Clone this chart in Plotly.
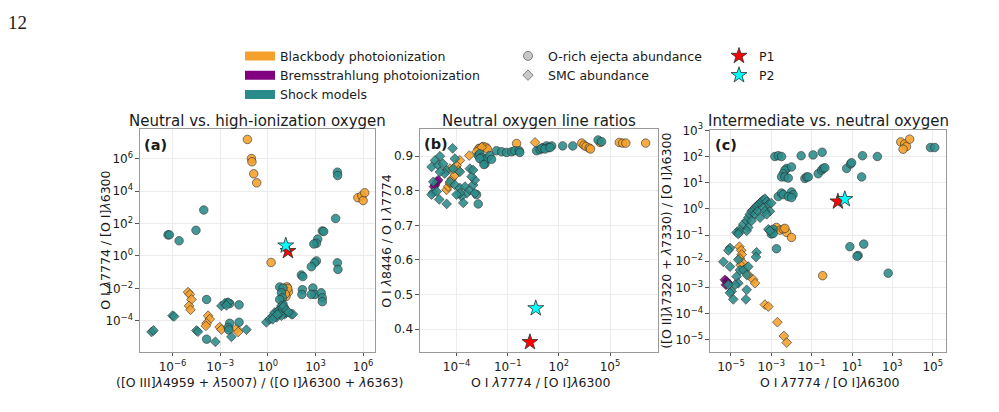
import plotly.graph_objects as go

# ---------------- DATA ----------------
# Panel (a): x = ([O III]4959+5007)/([O I]6300+6363), y = O I 7774/[O I]6300
a_bb_circ_x = [5.2e-2, 9.3e-2, 1.0e-1, 1.3e-1, 2.0e-1, 1.6, 4.7e5, 8.3e5, 1.0e6, 1.26e6, 16, 20, 14, 18, 12.6]
a_bb_circ_y = [1.5e7, 1.0e6, 6.3e5, 1.15e5, 3.2e4, 4.0e-1, 3.9e3, 5.1e3, 2.6e3, 7.8e3, 1.26e-2, 6.3e-3, 3.2e-3, 1.0e-2, 4.5e-3]
a_bb_diam_x = [9.5e-6, 1.23e-5, 1.55e-5, 1.1e-5, 1.35e-5, 1.74e-4, 2.2e-4, 1.4e-4, 1.26e-4, 9.3e-4, 1.2e-3, 1.07e-2, 1.35e-2]
a_bb_diam_y = [5.9e-3, 4.3e-3, 2.1e-3, 8.5e-4, 4.9e-4, 2.1e-4, 1.3e-4, 7.2e-5, 5.0e-5, 4.2e-5, 3.0e-5, 3.3e-5, 2.1e-5]
a_sh_circ_x = [5.2e-7, 6.3e-7, 2.6e-6, 3.0e-5, 9.3e-5, 1.86e4, 2.4e4, 2.5e4, 2.7e3, 3.3e3, 1.38e3, 1.15e3, 7.9e2,
               1.15e3, 8.9e2, 5.5e2, 2.4e4, 2.6e4, 1.3e2, 1.6e2, 1.5e2, 1.4e2, 6.9e2, 8.9e2, 2.3e3, 2.7e3, 2.7e3,
               5.5e2, 5.6, 9.1, 7.2, 8.3, 9.1, 5.6, 1.4e-4, 2.9e-3, 4.0e-3, 1.55e-2, 1.4e-4, 4.0e-3, 1.55e-2,
               3.2e-3, 3.5e-3]
a_sh_circ_y = [20, 20, 8.7, 38, 680, 204, 1.45e5, 9.1e4, 35, 32, 11, 6.0, 5.5,
               0.5, 0.38, 0.22, 0.38, 0.15, 6.8e-2, 5.4e-2, 8.5e-3, 4.3e-3, 1.07e-2, 4.3e-3, 5.4e-3, 2.7e-3, 1.55e-3,
               4.3e-3, 1.23e-2, 1.07e-2, 5.4e-3, 2.7e-3, 1.05e-3, 2.1e-3, 2.1e-3, 1.35e-3, 1.17e-3, 9.8e-4, 7.6e-6,
               7.2e-5, 8.3e-5, 4.0e-5, 2.8e-5]
a_sh_diam_x = [4.8e-8, 6.3e-8, 1.0e-6, 1.26e-6, 3.2e-5, 4.0e-5, 5.0e-4, 5.1e-3, 4.5e-2, 1.2e-3, 1.95e-3, 3.2e-3,
               2.5e-3, 0.81, 1.32, 2.1, 2.7, 4.4, 5.6, 7.2, 9.1, 11.5, 14.8, 30, 38, 3.5, 7.2, 5.6, 8.3, 10, 14.8,
               2.0, 4.0, 20]
a_sh_diam_y = [2.1e-5, 2.6e-5, 2.1e-4, 1.9e-4, 2.6e-5, 2.2e-5, 5.2e-6, 1.05e-5, 2.9e-5, 8.5e-4, 1.2e-3, 1.35e-3,
               9.1e-4, 8.3e-5, 1.3e-4, 2.1e-4, 3.3e-4, 4.3e-4, 5.2e-4, 8.5e-4, 4.3e-4, 2.6e-4, 3.3e-4, 2.6e-4,
               2.6e-4, 1.66e-4, 2.1e-4, 3.0e-4, 6.5e-4, 7.9e-4, 4.6e-4, 1.26e-4, 2.5e-4, 3.5e-4]

# Panel (b): x = O I 7774/[O I]6300, y = O I 8446/O I 7774
b_bb_circ_x = [0.33, 2.2e3, 2.95e3, 3.9e3, 6.0e3, 7.2e3, 2.6e4, 3.5e5, 5.5e5, 8.5e5, 1.23e7, 2.1e-3, 3.6e-3, 5.2e-3, 6.3e-3]
b_bb_circ_y = [0.937, 0.938, 0.932, 0.928, 0.924, 0.921, 0.940, 0.940, 0.938, 0.938, 0.938, 0.923, 0.928, 0.926, 0.921]
b_bb_diam_x = [4.0, 5.5e-4, 1.55e-4, 1.0e-4, 4.1e-5, 2.6e-5, 3.2e-5, 4.1e-5, 5.1e-5, 7.9e-5, 1.26e-4, 1.86e-3, 2.95e-3, 1.48e-3]
b_bb_diam_y = [0.940, 0.902, 0.888, 0.873, 0.864, 0.803, 0.812, 0.822, 0.834, 0.845, 0.859, 0.921, 0.926, 0.913]
b_br_diam_x = [5.4e-6, 6.8e-6, 8.3e-6, 4.7e-6]
b_br_diam_y = [0.817, 0.826, 0.831, 0.812]
b_sh_circ_x = [1.86e-3, 2.3e-3, 2.95e-3, 3.6e-3, 4.6e-3, 5.8e-3, 8.9e-3, 1.12e-2, 2.3e-3, 4.0e-3, 2.2e-2, 4.4e-2,
               8.5e-2, 0.17, 0.26, 0.47, 0.51, 4.9, 7.8, 12, 19, 24, 38, 9.8, 15, 30, 1.66e2, 6.5e2, 2.0e4, 3.2e4,
               1.86e-3, 1.48e-3]
b_sh_circ_y = [0.902, 0.907, 0.897, 0.888, 0.878, 0.893, 0.902, 0.891, 0.893, 0.876, 0.916, 0.913,
               0.911, 0.913, 0.916, 0.916, 0.911, 0.916, 0.919, 0.925, 0.930, 0.925, 0.930, 0.923, 0.921, 0.925,
               0.930, 0.930, 0.947, 0.942, 0.762, 0.789]
b_sh_diam_x = [5.8e-5, 1.05e-5, 5.4e-6, 3.4e-6, 8.3e-6, 1.6e-5, 2.6e-5, 6.3e-5, 1.55e-4, 7.9e-5, 2.0e-5, 1.05e-5,
               4.3e-6, 4.1e-5, 7.9e-5, 1.55e-4, 3.1e-4, 3.9e-4, 1.95e-4, 6.0e-4, 9.3e-4, 1.17e-3, 1.17e-3, 7.6e-4,
               1.55e-4, 2.45e-4, 2.6e-5, 9.5e-6, 4.3e-6, 3.4e-6, 6.8e-6, 1.0e-4, 6.0e-4, 9.3e-4]
b_sh_diam_y = [0.923, 0.900, 0.888, 0.869, 0.874, 0.878, 0.860, 0.864, 0.855, 0.893, 0.850, 0.855,
               0.826, 0.826, 0.817, 0.808, 0.812, 0.793, 0.784, 0.803, 0.817, 0.831, 0.793, 0.841,
               0.793, 0.765, 0.762, 0.775, 0.796, 0.789, 0.798, 0.789, 0.864, 0.860]

# Panel (c): x = O I 7774/[O I]6300, y = ([O II]7320+7330)/[O I]6300
c_bb_circ_x = [2.6e3, 4.1e3, 5.0e3, 7.2e3, 3.4e3, 1.8e-3, 2.7e-3, 3.9e-3, 5.8e-3, 1.0e-2, 4.7e-3, 0.35]
c_bb_circ_y = [3.6e2, 3.0e2, 2.4e2, 4.6e2, 1.9e2, 0.195, 0.155, 0.166, 0.126, 8.1e-2, 0.18, 2.8e-3]
c_bb_diam_x = [2.6e-5, 3.2e-5, 3.4e-5, 2.8e-5, 3.8e-5, 3.0e-5, 4.4e-5, 7.2e-5, 1.26e-4, 1.55e-4, 4.8e-4, 7.1e-4,
               2.0e-3, 4.2e-3, 5.8e-3]
c_bb_diam_y = [3.6e-2, 2.6e-2, 1.8e-2, 1.26e-2, 8.7e-3, 7.1e-3, 4.6e-3, 3.0e-3, 2.0e-3, 1.45e-3, 2.2e-4, 1.86e-4,
               4.7e-5, 1.4e-5, 7.8e-6]
c_br_diam_x = [5.0e-6, 6.2e-6, 7.4e-6, 5.6e-6]
c_br_diam_y = [1.95e-3, 1.7e-3, 1.45e-3, 1.26e-3]
c_sh_circ_x = [1.5e-3, 2.2e-3, 3.2e-3, 3.0e-2, 0.117, 0.33, 33, 1.8e2, 7.8e4, 1.26e5, 5.8e-3, 4.7e-3, 3.9e-3,
               3.2e-3, 4.7e-3, 6.9e-3, 1.0e-2, 4.6e-2, 5.6e-2, 6.8e-2, 0.21, 0.31, 0.37, 0.45, 5.4, 8.5, 9.5, 30,
               2.2e-3, 3.2e-3, 3.9e-3, 1.0e-2, 1.2e-2, 6.9e-3, 1.0e-2, 1.0e-3, 1.23e-3, 1.0e-3, 1.23e-3, 1.8e-3,
               7.8, 38, 20, 17.8, 6.2e2]
c_sh_circ_y = [1.0e2, 1.07e2, 1.0e2, 1.07e2, 1.15e2, 1.45e2, 1.07e2, 1.0e2, 2.2e2, 2.2e2, 35, 30, 22,
               16.6, 16.6, 15, 40, 14.5, 16.6, 16.6, 22, 30, 35, 37, 35, 52, 58, 16.6,
               2.95, 4.0, 3.5, 4.4, 3.5, 2.95, 2.7, 0.145, 0.166, 0.11, 0.115, 3.0e-2,
               3.6e-2, 4.5e-2, 1.66e-2, 1.55e-2, 3.5e-3]
c_sh_diam_x = [1.9e-5, 2.8e-5, 4.1e-5, 6.0e-5, 7.2e-5, 8.7e-5, 1.05e-4, 1.26e-4, 1.55e-4, 1.86e-4, 2.2e-4, 2.75e-4,
               3.3e-4, 4.0e-4, 4.8e-4, 5.9e-4, 7.1e-4, 8.5e-4, 1.0e-3, 1.55e-4, 2.2e-4, 2.75e-4, 1.05e-4, 7.2e-5,
               6.0e-5, 4.0e-4, 4.8e-4, 5.9e-4, 7.1e-4, 8.5e-4, 2.6e-5, 2.3e-5,
               8.9e-6, 7.4e-6, 4.2e-6, 8.9e-6, 2.3e-5, 2.8e-5, 1.9e-5, 2.3e-5, 1.07e-5, 1.3e-5, 4.1e-5, 6.0e-5,
               7.2e-5, 6.0e-5, 5.5e-5, 1.86e-4, 1.74e-4, 1.6e-5, 7.4e-6, 8.9e-6]
c_sh_diam_y = [0.126, 0.166, 0.26, 0.35, 0.46, 0.62, 0.81, 0.93, 1.1, 1.26, 1.45, 1.66,
               1.9, 2.2, 2.45, 1.9, 1.45, 0.81, 1.66, 0.62, 0.81, 0.46, 0.35, 0.195,
               0.145, 1.1, 0.81, 0.62, 0.166, 0.145, 0.126, 0.11,
               3.2e-2, 2.6e-2, 9.5e-3, 6.2e-3, 1.15e-2, 4.6e-3, 2.6e-3, 1.45e-3, 7.1e-4, 3.5e-4, 4.6e-3, 3.0e-3,
               6.2e-3, 8.1e-4, 3.5e-4, 2.2e-2, 1.45e-2, 1.26e-3, 1.26e-3, 6.2e-4]

# Observations (P1, P2)
p_oiii_oi = [18.6, 13.5]        # panel (a) x
p_7774_6300 = [2.0, 4.4]        # panel (a) y, panels (b),(c) x
p_8446_7774 = [0.362, 0.46]     # panel (b) y
p_oii_oi = [1.9, 2.35]          # panel (c) y

# Ticks
a_xticks = [-6, -3, 0, 3, 6]
a_yticks = [-4, -2, 0, 2, 4, 6]
b_xticks = [-4, -1, 2, 5]
b_yticks = [0.4, 0.5, 0.6, 0.7, 0.8, 0.9]
c_xticks = [-5, -3, -1, 1, 3, 5]
c_yticks = [-5, -4, -3, -2, -1, 0, 1, 2, 3]

# ---------------- STYLE ----------------
ORANGE = "#f5a02a"
PURPLE = "#800080"
TEAL = "#2a8c8a"
EDGE = "#2b2b2b"
FONT = "DejaVu Sans"
TXT = "#1a1a1a"

fig = go.Figure()


def pts(x, y, color, symbol, ax, size):
    fig.add_trace(go.Scatter(
        x=x, y=y, mode="markers", xaxis=ax[0], yaxis=ax[1], showlegend=False, hoverinfo="skip",
        marker=dict(color=color, symbol=symbol, size=size, opacity=0.88,
                    line=dict(color=EDGE, width=0.7))))


CS, DS = 8.5, 7.5
# panel a
pts(a_bb_circ_x, a_bb_circ_y, ORANGE, "circle", ("x", "y"), CS)
pts(a_bb_diam_x, a_bb_diam_y, ORANGE, "diamond", ("x", "y"), DS)
pts(a_sh_circ_x, a_sh_circ_y, TEAL, "circle", ("x", "y"), CS)
pts(a_sh_diam_x, a_sh_diam_y, TEAL, "diamond", ("x", "y"), DS)
# panel b
pts(b_bb_circ_x, b_bb_circ_y, ORANGE, "circle", ("x2", "y2"), CS)
pts(b_bb_diam_x, b_bb_diam_y, ORANGE, "diamond", ("x2", "y2"), DS)
pts(b_br_diam_x, b_br_diam_y, PURPLE, "diamond", ("x2", "y2"), DS)
pts(b_sh_circ_x, b_sh_circ_y, TEAL, "circle", ("x2", "y2"), CS)
pts(b_sh_diam_x, b_sh_diam_y, TEAL, "diamond", ("x2", "y2"), DS)
# panel c
pts(c_bb_circ_x, c_bb_circ_y, ORANGE, "circle", ("x3", "y3"), CS)
pts(c_bb_diam_x, c_bb_diam_y, ORANGE, "diamond", ("x3", "y3"), DS)
pts(c_br_diam_x, c_br_diam_y, PURPLE, "diamond", ("x3", "y3"), DS)
pts(c_sh_circ_x, c_sh_circ_y, TEAL, "circle", ("x3", "y3"), CS)
pts(c_sh_diam_x, c_sh_diam_y, TEAL, "diamond", ("x3", "y3"), DS)

# stars
STAR_COLORS = ["#ff0000", "#00ffff"]
STAR_NAMES = ["P1", "P2"]
for i in range(2):
    for ax, xs, ys in [(("x", "y"), p_oiii_oi, p_7774_6300),
                       (("x2", "y2"), p_7774_6300, p_8446_7774),
                       (("x3", "y3"), p_7774_6300, p_oii_oi)]:
        fig.add_trace(go.Scatter(
            x=[xs[i]], y=[ys[i]], mode="markers", xaxis=ax[0], yaxis=ax[1],
            name=STAR_NAMES[i], legend="legend3", showlegend=(ax[0] == "x"), hoverinfo="skip",
            marker=dict(color=STAR_COLORS[i], symbol="star", size=12, line=dict(color=EDGE, width=0.8))))

# legend entries (empty traces)
for name, col in [("Blackbody photoionization", ORANGE), ("Bremsstrahlung photoionization", PURPLE),
                  ("Shock models", TEAL)]:
    fig.add_trace(go.Scatter(x=[None], y=[None], mode="lines", name=name, legend="legend",
                             line=dict(color=col, width=9)))
for name, sym in [("O-rich ejecta abundance", "circle"), ("SMC abundance", "diamond")]:
    fig.add_trace(go.Scatter(x=[None], y=[None], mode="markers", name=name, legend="legend2",
                             marker=dict(color="#c8c8c8", symbol=sym, size=9 if sym == "circle" else 8,
                                         line=dict(color="#666", width=0.8))))


def logticks(exps):
    return [10.0 ** e for e in exps], ["10<sup>" + (("\u2212" + str(-e)) if e < 0 else str(e)) + "</sup>" for e in exps]


def axstyle(**kw):
    d = dict(showline=True, mirror=True, linecolor="#9a9a9a", linewidth=1, ticks="outside", ticklen=3.5,
             tickwidth=0.8, tickcolor="#555", showgrid=True, gridcolor="#ececec", gridwidth=1, zeroline=False,
             tickfont=dict(family=FONT, size=12, color=TXT), tickmode="array")
    d.update(kw)
    return d


YD = [0.1493, 0.7015]
tv, tt = logticks(a_xticks)
fig.layout.xaxis = axstyle(type="log", range=[-8.05, 6.75], domain=[0.1401, 0.3754], anchor="y", tickvals=tv, ticktext=tt)
tv, tt = logticks(a_yticks)
fig.layout.yaxis = axstyle(type="log", range=[-5.9, 7.8], domain=YD, anchor="x", tickvals=tv, ticktext=tt)
tv, tt = logticks(b_xticks)
fig.layout.xaxis2 = axstyle(type="log", range=[-6.15, 7.8], domain=[0.4204, 0.6584], anchor="y2", tickvals=tv, ticktext=tt)
fig.layout.yaxis2 = axstyle(range=[0.334, 0.978], domain=YD, anchor="x2", tickvals=b_yticks,
                            ticktext=[f"{v:.1f}" for v in b_yticks])
tv, tt = logticks(c_xticks)
fig.layout.xaxis3 = axstyle(type="log", range=[-6.04, 5.66], domain=[0.7107, 0.947], anchor="y3", tickvals=tv, ticktext=tt)
tv, tt = logticks(c_yticks)
fig.layout.yaxis3 = axstyle(type="log", range=[-5.46, 3.0], domain=[0.1493, 0.699], anchor="x3", tickvals=tv, ticktext=tt)

W, H = 999, 412


def px(x):
    return x / W


def py(y):
    return 1 - y / H


ann = []


def text(s, x, y, size=12.5, angle=0, bold=False, xanchor="center", family=FONT):
    ann.append(dict(text=("<b>" + s + "</b>") if bold else s, x=px(x), y=py(y), xref="paper", yref="paper",
                    showarrow=False, textangle=angle, xanchor=xanchor, yanchor="middle",
                    font=dict(family=family, size=size, color=TXT)))


LAM = "<i>\u03bb</i>"
text("12", 6, 14, size=19, xanchor="left", family="Liberation Serif")
text("Neutral vs. high-ionization oxygen", 257.5, 115, size=15)
text("Neutral oxygen line ratios", 539, 115, size=15)
text("Intermediate vs. neutral oxygen", 828, 115, size=15)
text("(a)", 142, 139, size=14.5, bold=True, xanchor="left")
text("(b)", 422, 138, size=14.5, bold=True, xanchor="left")
text("(c)", 713, 139, size=14.5, bold=True, xanchor="left")
text("([O III]" + LAM + "4959 + " + LAM + "5007) / ([O I]" + LAM + "6300 + " + LAM + "6363)", 259, 382)
text("O I " + LAM + "7774 / [O I]" + LAM + "6300", 540, 382)
text("O I " + LAM + "7774 / [O I]" + LAM + "6300", 829, 382)
text("O I " + LAM + "7774 / [O I]" + LAM + "6300", 106, 237, angle=-90)
text("O I " + LAM + "8446 / O I " + LAM + "7774", 387, 237, angle=-90)
text("([O II]" + LAM + "7320 + " + LAM + "7330) / [O I]" + LAM + "6300", 667, 237, angle=-90)

leg = dict(font=dict(family=FONT, size=12.5, color=TXT), bgcolor="rgba(0,0,0,0)", borderwidth=0,
           orientation="v", xanchor="left", yanchor="top", itemsizing="trace", tracegroupgap=0)
fig.update_layout(
    width=W, height=H, autosize=False, margin=dict(l=0, r=0, t=0, b=0),
    paper_bgcolor="white", plot_bgcolor="white", annotations=ann, showlegend=True,
    legend=dict(leg, x=px(240), y=py(33)),
    legend2=dict(leg, x=px(508), y=py(33)),
    legend3=dict(leg, x=px(719), y=py(33)),
)

fig.write_html("out.html")
